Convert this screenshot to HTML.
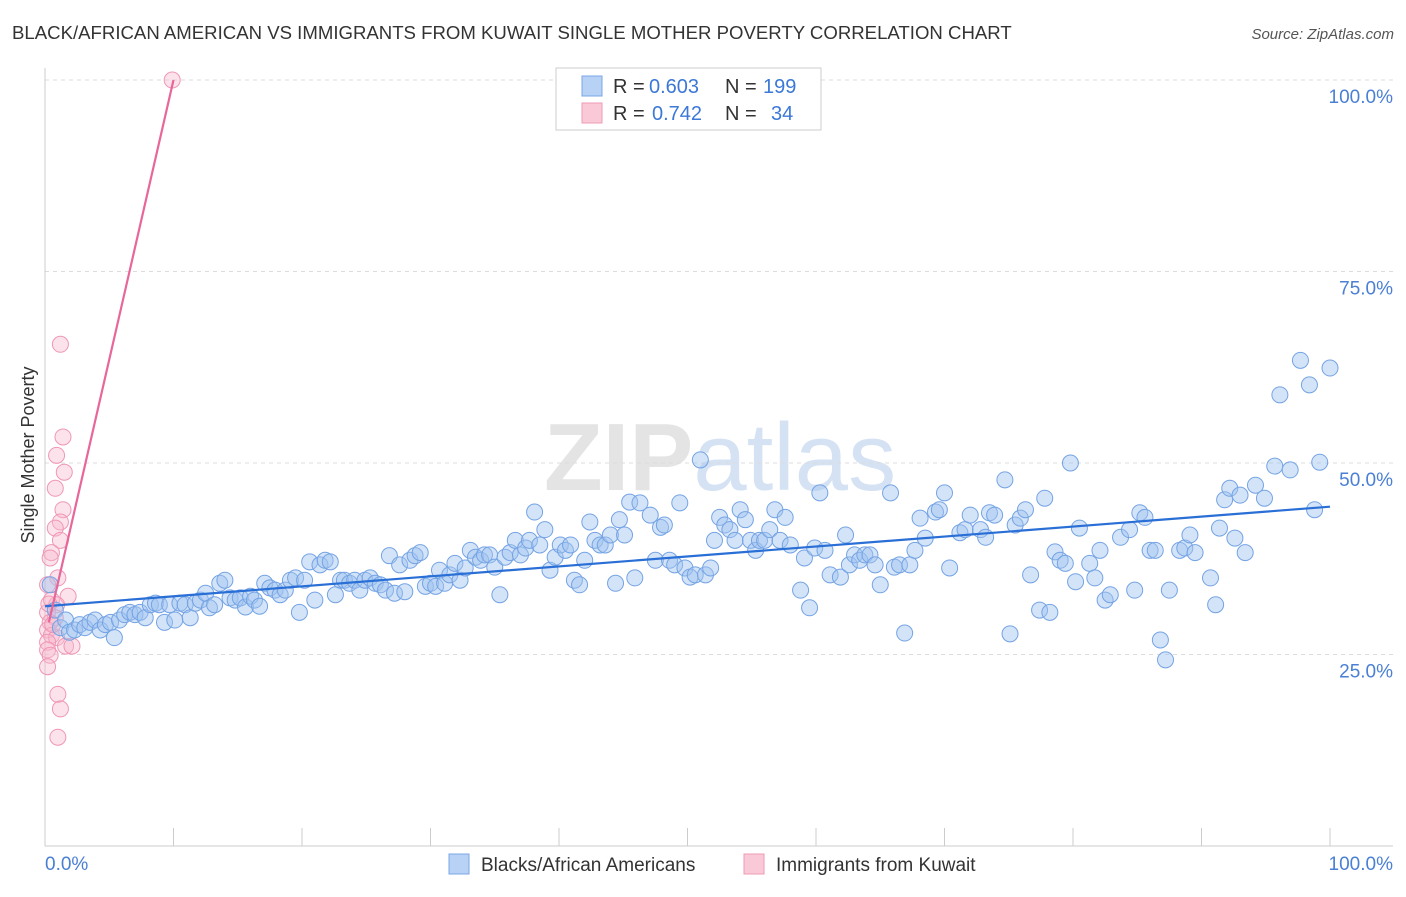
<!DOCTYPE html>
<html><head><meta charset="utf-8">
<style>
body{margin:0;background:#fff;font-family:"Liberation Sans",sans-serif;}
svg text{font-family:"Liberation Sans",sans-serif;}
</style></head>
<body>
<svg id="chart" width="1406" height="892" viewBox="0 0 1406 892" xmlns="http://www.w3.org/2000/svg">
<rect width="1406" height="892" fill="#fff"/>
<text x="12" y="39" font-size="18.6" fill="#333">BLACK/AFRICAN AMERICAN VS IMMIGRANTS FROM KUWAIT SINGLE MOTHER POVERTY CORRELATION CHART</text>
<text x="1394" y="39" font-size="15" fill="#555" text-anchor="end" font-style="italic">Source: ZipAtlas.com</text>
<text x="720" y="490" font-size="96" fill="#e4e4e4" text-anchor="middle" font-family="Liberation Serif" font-weight="bold">ZIP<tspan fill="#d4e2f4" font-family="Liberation Sans" font-weight="normal">atlas</tspan></text>
<text transform="translate(34,455) rotate(-90)" font-size="18" fill="#333" text-anchor="middle">Single Mother Poverty</text>
<g id="grid"></g>
<g id="axes"></g>
<g id="pinkPts"></g>
<g id="bluePts"></g>
<g id="trends"></g>
<g>
<rect x="556" y="68" width="265" height="62" fill="#fff" stroke="#ccc"/>
<rect x="582" y="76" width="20" height="20" fill="#b7d2f5" stroke="#7aa7e6"/>
<text x="613" y="93" font-size="20" fill="#333">R =</text>
<text x="649" y="93" font-size="20" fill="#3b78d8">0.603</text>
<text x="725" y="93" font-size="20" fill="#333">N =</text>
<text x="763" y="93" font-size="20" fill="#3b78d8">199</text>
<rect x="582" y="103" width="20" height="20" fill="#f9c9d7" stroke="#ef9bb6"/>
<text x="613" y="120" font-size="20" fill="#333">R =</text>
<text x="652" y="120" font-size="20" fill="#3b78d8">0.742</text>
<text x="725" y="120" font-size="20" fill="#333">N =</text>
<text x="771" y="120" font-size="20" fill="#3b78d8">34</text>
</g>
<g>
<rect x="449" y="854" width="20" height="20" fill="#b7d2f5" stroke="#7aa7e6"/>
<text x="481" y="871" font-size="19" fill="#333">Blacks/African Americans</text>
<rect x="744" y="854" width="20" height="20" fill="#f9c9d7" stroke="#ef9bb6"/>
<text x="776" y="871" font-size="19" fill="#333">Immigrants from Kuwait</text>
</g>
</svg>
<script>
const yTicks=[25,50,75,100];
const yTickLabels=["25.0%","50.0%","75.0%","100.0%"];
const xTicks=[0,10,20,30,40,50,60,70,80,90,100];
const blueTrend=[31.3,44.3];
const pinkTrend=[27.0,100];
const bluePoints=[[0.4,34.1],[0.8,30.8],[1.2,28.5],[1.6,29.5],[1.9,27.9],[2.3,28.2],[2.7,28.9],[3.1,28.5],[3.5,29.2],[3.9,29.5],[4.3,28.2],[4.7,28.9],[5.1,29.2],[5.4,27.2],[5.8,29.5],[6.2,30.2],[6.6,30.5],[7.0,30.2],[7.4,30.5],[7.8,29.8],[8.2,31.5],[8.6,31.7],[8.9,31.5],[9.3,29.2],[9.7,31.5],[10.1,29.5],[10.5,31.7],[10.9,31.5],[11.3,29.8],[11.7,31.7],[12.1,32.1],[12.5,33.0],[12.8,31.1],[13.2,31.5],[13.6,34.3],[14.0,34.7],[14.4,32.4],[14.8,32.1],[15.2,32.4],[15.6,31.2],[16.0,32.6],[16.3,32.1],[16.7,31.3],[17.1,34.3],[17.5,33.7],[17.9,33.4],[18.3,32.8],[18.7,33.4],[19.1,34.7],[19.5,35.0],[19.8,30.5],[20.2,34.7],[20.6,37.1],[21.0,32.1],[21.4,36.7],[21.8,37.3],[22.2,37.1],[22.6,32.8],[23.0,34.7],[23.3,34.7],[23.7,34.3],[24.1,34.7],[24.5,33.4],[24.9,34.7],[25.3,35.0],[25.7,34.3],[26.1,34.1],[26.5,33.4],[26.8,37.9],[27.2,33.0],[27.6,36.7],[28.0,33.2],[28.4,37.3],[28.8,37.9],[29.2,38.3],[29.6,33.9],[30.0,34.3],[30.4,33.9],[30.7,36.0],[31.1,34.3],[31.5,35.4],[31.9,36.9],[32.3,34.7],[32.7,36.3],[33.1,38.6],[33.5,37.7],[33.9,37.3],[34.2,38.0],[34.6,38.0],[35.0,36.4],[35.4,32.8],[35.8,37.7],[36.2,38.3],[36.6,39.9],[37.0,38.0],[37.4,38.9],[37.7,39.9],[38.1,43.6],[38.5,39.3],[38.9,41.3],[39.3,36.0],[39.7,37.7],[40.1,39.3],[40.5,38.6],[40.9,39.3],[41.2,34.7],[41.6,34.1],[42.0,37.3],[42.4,42.3],[42.8,39.9],[43.2,39.3],[43.6,39.3],[44.0,40.6],[44.4,34.3],[44.7,42.6],[45.1,40.6],[45.5,44.9],[45.9,35.0],[46.3,44.8],[47.1,43.2],[47.5,37.3],[47.9,41.6],[48.2,41.9],[48.6,37.3],[49.0,36.7],[49.4,44.8],[49.8,36.3],[50.2,35.1],[50.6,35.4],[51.0,50.4],[51.4,35.4],[51.8,36.3],[52.1,39.9],[52.5,42.9],[52.9,41.9],[53.3,41.3],[53.7,39.9],[54.1,43.9],[54.5,42.6],[54.9,39.9],[55.3,38.6],[55.6,39.9],[56.0,39.9],[56.4,41.3],[56.8,43.9],[57.2,39.9],[57.6,42.9],[58.0,39.3],[58.8,33.4],[59.1,37.6],[59.5,31.1],[59.9,38.9],[60.3,46.1],[60.7,38.6],[61.1,35.4],[61.9,35.1],[62.3,40.6],[62.6,36.7],[63.0,38.0],[63.4,37.3],[63.8,38.0],[64.2,38.0],[64.6,36.7],[65.0,34.1],[65.8,46.1],[66.1,36.4],[66.5,36.7],[66.9,27.8],[67.3,36.7],[67.7,38.6],[68.1,42.8],[68.5,40.2],[69.3,43.6],[69.6,43.9],[70.0,46.1],[70.4,36.3],[71.2,40.9],[71.6,41.3],[72.0,43.2],[72.8,41.3],[73.2,40.3],[73.5,43.5],[73.9,43.2],[74.7,47.8],[75.1,27.7],[75.5,41.9],[75.9,42.8],[76.3,43.9],[76.7,35.4],[77.4,30.8],[77.8,45.4],[78.2,30.5],[78.6,38.4],[79.0,37.3],[79.4,36.9],[79.8,50.0],[80.2,34.5],[80.5,41.5],[81.3,36.9],[81.7,35.0],[82.1,38.6],[82.5,32.1],[82.9,32.8],[83.7,40.3],[84.4,41.3],[84.8,33.4],[85.2,43.5],[85.6,42.9],[86.0,38.6],[86.4,38.6],[86.8,26.9],[87.2,24.3],[87.5,33.4],[88.3,38.6],[88.7,38.9],[89.1,40.6],[89.5,38.3],[90.7,35.0],[91.1,31.5],[91.4,41.5],[91.8,45.2],[92.2,46.7],[92.6,40.2],[93.0,45.8],[93.4,38.3],[94.2,47.1],[94.9,45.4],[95.7,49.6],[96.1,58.9],[96.9,49.1],[97.7,63.4],[98.4,60.2],[98.8,43.9],[99.2,50.1],[100,62.4]];
const pinkPoints=[[9.9,100],[1.2,65.5],[1.4,53.4],[0.9,51.0],[1.5,48.8],[0.8,46.7],[1.4,43.9],[1.2,42.3],[0.8,41.5],[1.2,39.9],[0.5,38.3],[0.4,37.6],[1.0,35.0],[0.2,34.1],[1.8,32.6],[0.5,32.1],[0.9,31.5],[0.2,30.5],[0.8,29.8],[0.4,29.2],[0.2,28.2],[0.5,27.5],[0.9,27.2],[0.2,26.6],[1.6,26.1],[2.1,26.1],[0.2,25.6],[0.4,24.9],[0.2,23.4],[1.0,19.8],[1.2,17.9],[1.0,14.2],[0.6,28.9],[0.3,31.6]];

const NS="http://www.w3.org/2000/svg";
function X(v){return 45+v*12.85;}
function Y(v){return 846-v*7.66;}
function mk(tag,attrs,parent){const e=document.createElementNS(NS,tag);for(const k in attrs)e.setAttribute(k,attrs[k]);parent.appendChild(e);return e;}
const grid=document.getElementById('grid'),axes=document.getElementById('axes');
yTicks.forEach((t,i)=>{
  const l=mk('line',{x1:45,x2:1393,y1:Y(t),y2:Y(t),stroke:'#dcdcdc','stroke-dasharray':'4,4'},grid);
  
  
  const tx=mk('text',{x:1393,y:Y(t)+23,'font-size':19,fill:'#4a7fd4','text-anchor':'end'},axes);
  tx.textContent=yTickLabels[i];
  
  
});
const ya=mk('line',{x1:45,x2:45,y1:68,y2:846,stroke:'#ccc'},axes);


const xa=mk('line',{x1:45,x2:1393,y1:846,y2:846,stroke:'#ccc'},axes);


xTicks.forEach(t=>{
  const l=mk('line',{x1:X(t),x2:X(t),y1:828,y2:846,stroke:'#ccc'},axes);
  
  
});
const x0=mk('text',{x:45,y:870,'font-size':19,fill:'#4a7fd4'},axes);x0.textContent='0.0%';


const x1=mk('text',{x:1393,y:870,'font-size':19,fill:'#4a7fd4','text-anchor':'end'},axes);x1.textContent='100.0%';


const bp=document.getElementById('bluePts');
bluePoints.forEach(p=>{
  const c=mk('circle',{cx:X(p[0]),cy:Y(p[1]),r:8,fill:'rgba(160,196,240,0.45)',stroke:'#74a3e4','stroke-width':1},bp);
  
  
});
const pp=document.getElementById('pinkPts');
pinkPoints.forEach(p=>{
  const c=mk('circle',{cx:X(p[0]),cy:Y(p[1]),r:8,fill:'rgba(248,185,205,0.4)',stroke:'#f096b5','stroke-width':1},pp);
  
  
});
const tr=document.getElementById('trends');
const bl=mk('line',{x1:X(0),y1:Y(blueTrend[0]),x2:X(100),y2:Y(blueTrend[1]),stroke:'#2a6fd6','stroke-width':2.2},tr);


const pl=mk('line',{x1:X(0.3),y1:Y(pinkTrend[0]+(pinkTrend[1]-pinkTrend[0])*0.03),x2:X(10),y2:Y(pinkTrend[1]),stroke:'#e8679a','stroke-width':2.2},tr);


</script>
</body></html>
